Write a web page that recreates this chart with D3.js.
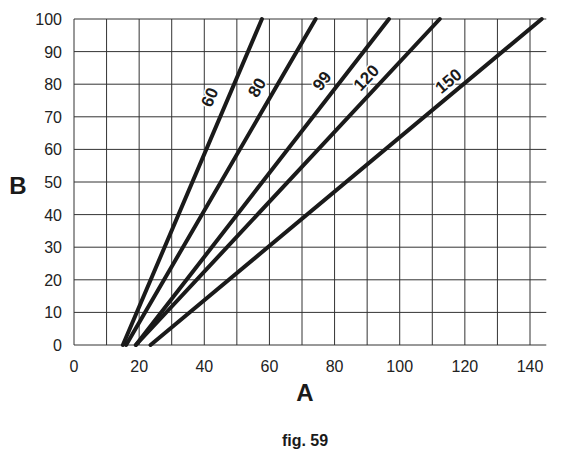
<!DOCTYPE html><html><head><meta charset="utf-8">
<script src="https://cdn.jsdelivr.net/npm/d3@7"></script>
<style>body{margin:0;background:#fff}</style></head><body>
<script>
const seriesLabels=["60","80","99","120","150"];
const startA=[15,16,19,19,23.5];   // A at B=0
const endA=[57.7,74.2,96.7,112.3,143.6]; // A at B=100
const labelB=[76,79,81,82,81];
const xTicks=[0,20,40,60,80,100,120,140];
const yTicks=[0,10,20,30,40,50,60,70,80,90,100];

const W=575,H=467;
const svg=d3.select("body").append("svg").attr("width",W).attr("height",H);
const x=d3.scaleLinear().domain([0,140]).range([74,530]);
const y=d3.scaleLinear().domain([0,100]).range([345,19]);
const font="Liberation Sans, Arial, sans-serif";
const g=svg.append("g");
// grid
g.selectAll(".v").data(d3.range(0,150,10)).join("line")
 .attr("x1",d=>x(d)).attr("x2",d=>x(d)).attr("y1",y(0)).attr("y2",y(100))
 .attr("stroke","#333").attr("stroke-width",1);
g.selectAll(".h").data(yTicks).join("line")
 .attr("x1",x(0)).attr("x2",x(145)).attr("y1",d=>y(d)).attr("y2",d=>y(d))
 .attr("stroke","#333").attr("stroke-width",1);
// tick labels
svg.selectAll(".xt").data(xTicks).join("text").attr("x",d=>x(d)).attr("y",372)
 .attr("text-anchor","middle").attr("font-family",font).attr("font-size",16).attr("fill","#222").text(d=>d);
svg.selectAll(".yt").data(yTicks).join("text").attr("x",62).attr("y",d=>y(d)+6)
 .attr("text-anchor","end").attr("font-family",font).attr("font-size",16).attr("fill","#222").text(d=>d);
// lines
seriesLabels.forEach((s,i)=>{
  svg.append("line").attr("x1",x(startA[i])).attr("y1",y(0)).attr("x2",x(endA[i])).attr("y2",y(100))
   .attr("stroke","#1a1a1a").attr("stroke-width",4).attr("stroke-linecap","round");
  const b=labelB[i];
  const a=startA[i]+(endA[i]-startA[i])*b/100;
  const ang=Math.atan2(y(100)-y(0), x(endA[i])-x(startA[i]))*180/Math.PI;
  const px=x(a)-19, py=y(b);
  svg.append("text").attr("transform",`translate(${px},${py}) rotate(${ang})`)
   .attr("text-anchor","middle").attr("dy","0.35em").attr("font-family",font).attr("font-weight","bold")
   .attr("font-size",17).attr("fill","#1a1a1a").attr("stroke","#fff").attr("stroke-width",3)
   .attr("paint-order","stroke").text(s);
});
svg.append("text").attr("x",18).attr("y",194).attr("text-anchor","middle").attr("font-family",font)
 .attr("font-weight","bold").attr("font-size",24).attr("fill","#1a1a1a").text("B");
svg.append("text").attr("x",305).attr("y",401).attr("text-anchor","middle").attr("font-family",font)
 .attr("font-weight","bold").attr("font-size",24).attr("fill","#1a1a1a").text("A");
svg.append("text").attr("x",305).attr("y",446).attr("text-anchor","middle").attr("font-family",font)
 .attr("font-weight","bold").attr("font-size",16).attr("fill","#1a1a1a").text("fig. 59");
</script></body></html>
